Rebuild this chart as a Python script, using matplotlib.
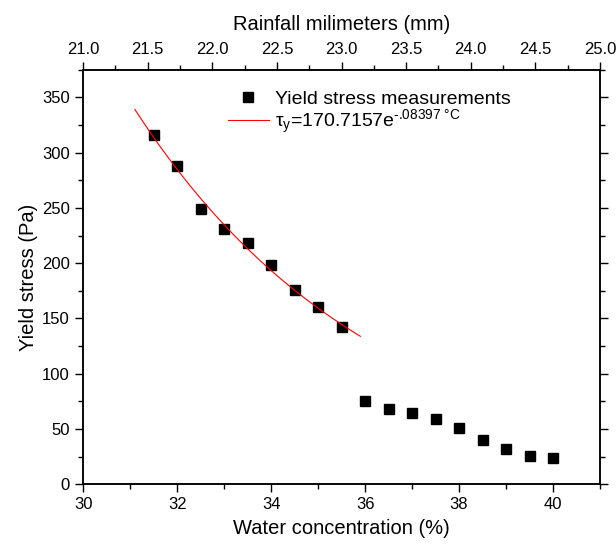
import numpy as np
import matplotlib
matplotlib.use("Agg")
import matplotlib.pyplot as plt
from matplotlib.ticker import MultipleLocator, FormatStrFormatter

plt.rcParams['font.family'] = ['Liberation Sans', 'DejaVu Sans']
plt.rcParams['mathtext.fontset'] = 'custom'
plt.rcParams['mathtext.rm'] = 'Liberation Sans'
plt.rcParams['mathtext.it'] = 'Liberation Sans'
plt.rcParams['mathtext.default'] = 'regular'

water = [31.5, 32, 32.5, 33, 33.5, 34, 34.5, 35, 35.5,
         36, 36.5, 37, 37.5, 38, 38.5, 39, 39.5, 40]
stress = [316, 288, 249, 231, 218, 198, 176, 160, 142,
          75, 68, 64, 59, 51, 40, 32, 25.5, 24]
n_fit = 9          # first 9 points are used for the exponential fit
fit_range = [31.1, 35.9]

fig = plt.figure(figsize=(6.16, 5.49), dpi=100)
ax = fig.add_axes([0.135, 0.118, 0.839, 0.755])

# exponential fit on the first branch
k, lnA = np.polyfit(water[:n_fit], np.log(stress[:n_fit]), 1)
xf = np.linspace(fit_range[0], fit_range[1], 200)
yf = np.exp(lnA + k * xf)

ax.plot(water, stress, 's', color='black', markersize=6.5, linestyle='none',
        label='Yield stress measurements')
ax.plot(xf, yf, color='red', lw=0.8,
        label=r'$\tau_y$=170.7157e$^{\text{-.08397 °C}}$')

ax.set_xlim(30, 41)
ax.set_ylim(0, 375)
ax.xaxis.set_major_locator(MultipleLocator(2))
ax.xaxis.set_minor_locator(MultipleLocator(1))
ax.yaxis.set_major_locator(MultipleLocator(50))
ax.yaxis.set_minor_locator(MultipleLocator(25))
ax.tick_params(which='both', direction='out', width=1, labelsize=12,
               top=False, right=True)
ax.tick_params(which='major', length=6)
ax.tick_params(which='minor', length=3.5)
ax.set_xlabel('Water concentration (%)', fontsize=14.5, labelpad=5)
ax.set_ylabel('Yield stress (Pa)', fontsize=14.5, labelpad=3)
for s in ax.spines.values():
    s.set_linewidth(1.1)

leg = ax.legend(loc='upper left', bbox_to_anchor=(0.265, 0.97), frameon=False,
                fontsize=14, handlelength=2.1, handletextpad=0.3,
                labelspacing=0.0, borderaxespad=0)

top = ax.twiny()
top.set_xlim(21, 25)
top.xaxis.set_major_locator(MultipleLocator(0.5))
top.xaxis.set_minor_locator(MultipleLocator(0.25))
top.xaxis.set_major_formatter(FormatStrFormatter('%.1f'))
top.tick_params(which='both', direction='out', width=1, labelsize=12)
top.tick_params(which='major', length=6)
top.tick_params(which='minor', length=3.5)
top.set_xlabel('Rainfall milimeters (mm)', fontsize=14.5, labelpad=8)
for s in top.spines.values():
    s.set_linewidth(1.1)

fig.savefig('out.png', dpi=100)
